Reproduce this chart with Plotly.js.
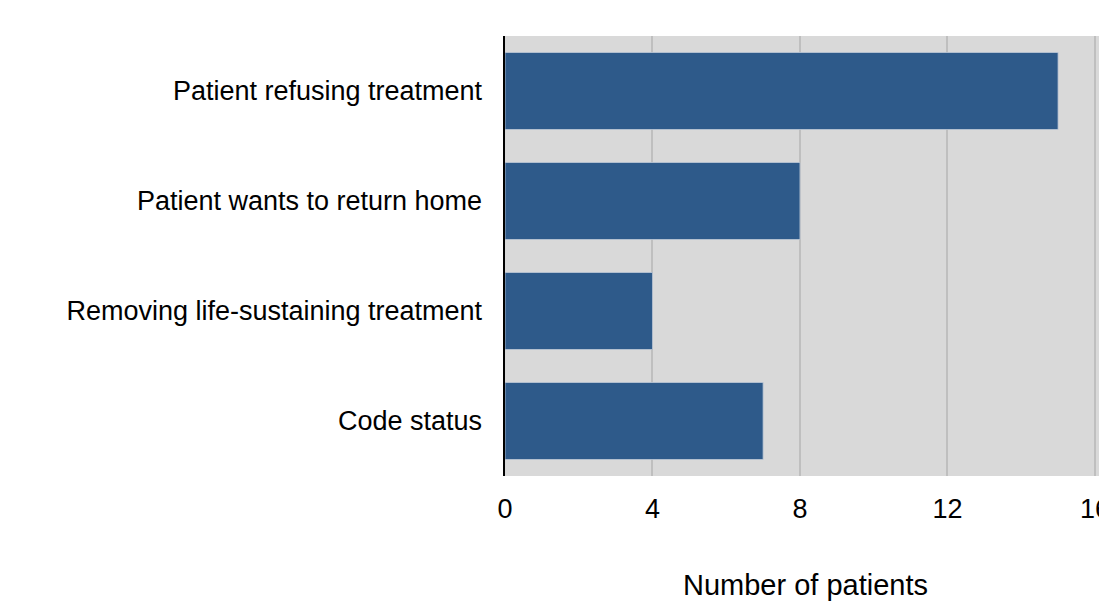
<!DOCTYPE html>
<html>
<head>
<meta charset="utf-8">
<script src="https://cdn.plot.ly/plotly-3.0.1.min.js"></script>
<style>
  html, body { margin: 0; padding: 0; overflow: hidden; background: #fff; }
  #chart { width: 1130px; height: 601px; }
</style>
</head>
<body>
<div id="chart"></div>
<script>
// Reasons for discussion, top to bottom
const reasons = [
  "Patient refusing treatment",
  "Patient wants to return home",
  "Removing life-sustaining treatment",
  "Code status"
];
const patientCounts = [15, 8, 4, 7];
const xTickValues = [0, 4, 8, 12, 16];
const xTickLabels = ["0", "4", "8", "12", "16"];

const trace = {
  type: "bar",
  orientation: "h",
  y: reasons,
  x: patientCounts,
  marker: {
    color: "#2e5a8a",
    line: { color: "rgba(190,200,215,0.8)", width: 1 }
  },
  hoverinfo: "x+y"
};

const layout = {
  width: 1130,
  height: 601,
  margin: { l: 505, r: 24, t: 36, b: 125 },
  paper_bgcolor: "#ffffff",
  plot_bgcolor: "#d9d9d9",
  bargap: 0.3,
  showlegend: false,
  font: { family: "Liberation Sans, Arial, sans-serif", color: "#000000" },
  xaxis: {
    range: [0, 16.3],
    tickvals: xTickValues,
    ticktext: xTickLabels,
    showgrid: true,
    gridcolor: "#bfbfbf",
    gridwidth: 2,
    zeroline: false,
    showline: false,
    ticks: "",
    ticklabelstandoff: 14,
    tickfont: { size: 27 },
    title: { text: "Number of patients", font: { size: 29 }, standoff: 52 }
  },
  yaxis: {
    autorange: "reversed",
    showgrid: false,
    zeroline: false,
    showline: true,
    linecolor: "#000000",
    linewidth: 2.5,
    ticks: "",
    ticklabelstandoff: 15,
    tickfont: { size: 27 }
  }
};

Plotly.newPlot("chart", [trace], layout, { displayModeBar: false, staticPlot: true });
</script>
</body>
</html>
